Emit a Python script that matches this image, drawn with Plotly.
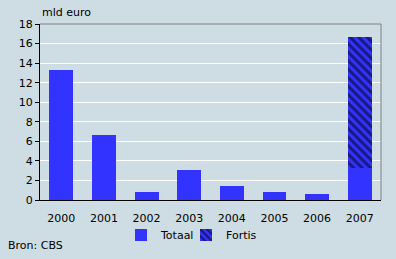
import plotly.graph_objects as go

years = ["2000", "2001", "2002", "2003", "2004", "2005", "2006", "2007"]
totaal = [13.3, 6.65, 0.85, 3.07, 1.43, 0.85, 0.62, 3.3]
fortis = [0, 0, 0, 0, 0, 0, 0, 13.37]
yticks = [0, 2, 4, 6, 8, 10, 12, 14, 16, 18]

BG = "#cedde3"
BLUE = "#3333ff"
FONT = dict(family="DejaVu Sans, Verdana, sans-serif", size=11, color="#000000")

fig = go.Figure()
fig.add_trace(go.Bar(x=years, y=totaal, name="Totaal", legend="legend",
                     marker=dict(color=BLUE, line=dict(width=0))))
fig.add_trace(go.Bar(x=years, y=fortis, name="Fortis", legend="legend2",
                     marker=dict(color=BLUE, line=dict(width=0),
                                 pattern=dict(shape="\\", fgcolor="#000000", bgcolor=BLUE,
                                              size=6, solidity=0.5, fillmode="overlay"))))

W, H = 396, 259
L, R, T, B = 40, 15, 24, 59
pw = W - L - R
ph = H - T - B

leg_common = dict(orientation="h", xanchor="left", y=(T + ph - 235) / ph, yanchor="middle",
                  bgcolor="rgba(0,0,0,0)", font=FONT, itemwidth=30)

fig.update_layout(
    width=W, height=H, barmode="stack", bargap=0.44,
    paper_bgcolor=BG, plot_bgcolor=BG, font=FONT,
    margin=dict(l=L, r=R, t=T, b=B, pad=0, autoexpand=False),
    showlegend=True,
    legend=dict(x=(121 - L) / pw, **leg_common),
    legend2=dict(x=(186 - L) / pw, **leg_common),
    xaxis=dict(showgrid=False, showline=True, linecolor="#000000", linewidth=1,
               ticks="", tickfont=FONT, ticklabelstandoff=8, fixedrange=True),
    yaxis=dict(range=[0, 18], tickvals=yticks, ticktext=[str(v) for v in yticks],
               showgrid=True, gridcolor="#ffffff", gridwidth=1,
               showline=True, linecolor="#000000", linewidth=1,
               ticks="outside", ticklen=4, tickcolor="#000000", tickfont=FONT,
               zeroline=False, fixedrange=True),
    shapes=[
        dict(type="line", xref="paper", yref="paper", x0=0, x1=1, y0=1, y1=1,
             line=dict(color="#808080", width=1)),
        dict(type="line", xref="paper", yref="paper", x0=1, x1=1, y0=0, y1=1,
             line=dict(color="#808080", width=1)),
    ],
    annotations=[
        dict(text="mld euro", xref="paper", yref="paper", x=0, y=(T + ph - 12) / ph,
             xanchor="left", yanchor="middle", showarrow=False, font=FONT),
        dict(text="Bron: CBS", xref="paper", yref="paper", x=-(L - 6) / pw,
             y=(T + ph - 246) / ph, xanchor="left", yanchor="middle",
             showarrow=False, font=FONT),
    ],
)

fig.write_html("out.html", config={"displayModeBar": False})
